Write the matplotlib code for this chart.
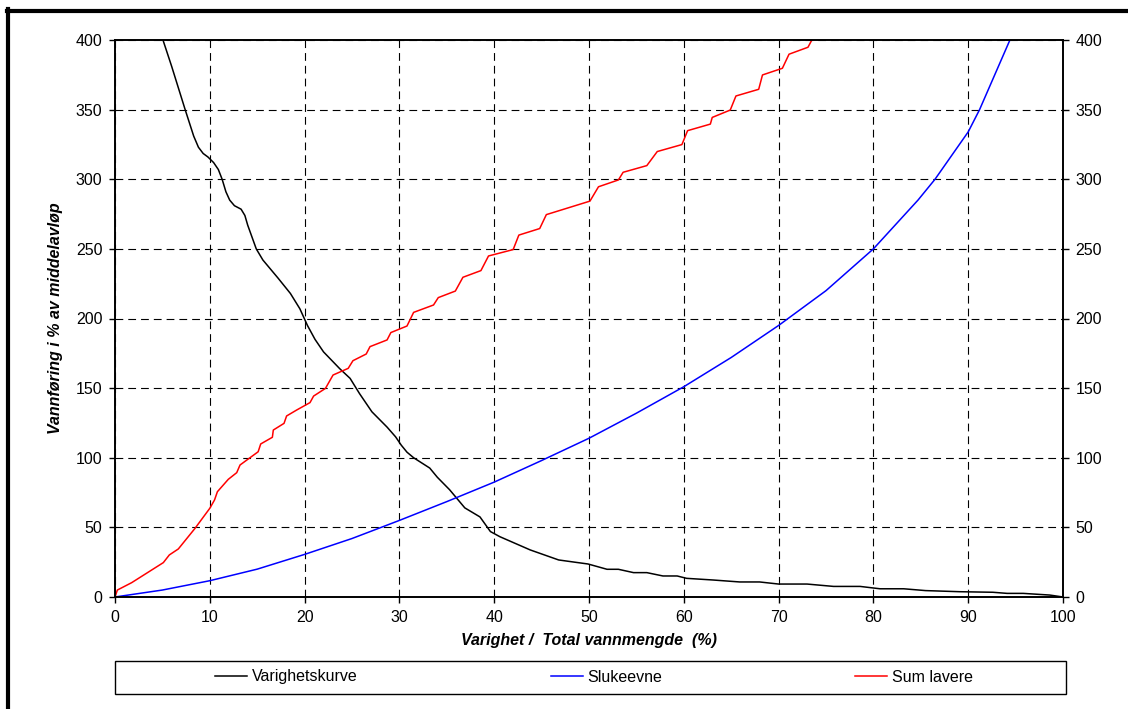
import numpy as np
import matplotlib
matplotlib.use('Agg')
import matplotlib.pyplot as plt
from matplotlib.lines import Line2D
from matplotlib.patches import Rectangle

plt.rcParams['font.family'] = ['Liberation Sans', 'DejaVu Sans']

# Varighetskurve (black)
var_x = [5.06, 5.98, 7.4, 8.3, 8.8, 9.3, 9.8, 10.4, 10.9, 11.3, 11.7, 12.1, 12.6, 13.3, 13.7,
         14.0, 14.9, 15.6, 17.2, 18.5, 19.5, 20.3, 21.1, 22.0, 23.7, 24.8, 25.8, 27.1, 28.7,
         29.6, 30.2, 30.8, 31.5, 33.2, 34.0, 35.3, 36.9, 38.5, 39.6, 40.6, 43.8, 46.8, 48.5,
         49.9, 51.9, 53.1, 54.7, 56.1, 57.8, 59.3, 60.3, 63.1, 65.9, 68.0, 70.0, 73.0, 75.8,
         78.6, 80.7, 83.2, 85.5, 89.1, 92.6, 94.1, 95.8, 98.6, 100.0]
var_y = [400, 381, 350, 331, 323, 318.5, 316, 312, 307, 300, 291, 285, 281, 278.5, 274,
         267, 250, 242, 229, 218, 207, 195, 185, 176, 164, 157, 146, 133, 122,
         115, 109, 104, 100, 92.6, 86, 77, 64, 57.5, 47, 43.3, 33.8, 26.6, 25,
         23.7, 19.9, 19.9, 17.5, 17.5, 15.1, 15.1, 13.4, 12.2, 10.8, 10.8, 9.3, 9.3, 7.6,
         7.6, 5.9, 5.9, 4.6, 3.8, 3.4, 2.6, 2.6, 1.4, 0]

# Slukeevne (blue)
sluk_x = [0, 5, 10, 15, 20, 25, 30, 35, 40, 45, 50, 55, 60, 65, 70, 75, 80, 84.7, 86.5,
          90, 91.2, 94.4]
sluk_y = [0, 5, 11.7, 20, 30.6, 42, 55, 68.5, 82.5, 98, 114, 132, 151, 172, 195, 220, 250,
          285, 300, 334, 350, 400]

# Sum lavere (red)
sum_x = [0, 0.25, 1.76, 5.1, 5.73, 6.68, 8.44, 10.0, 10.5, 10.8, 11.95, 12.84, 13.19, 15.1,
         15.37, 16.6, 16.7, 17.83, 18.1, 19.17, 20.57, 20.95, 22.2, 23.0, 24.6, 25.1, 26.5,
         26.9, 28.7, 29.1, 30.8, 31.5, 33.6, 34.1, 35.9, 36.7, 38.6, 39.4, 42.0, 42.6, 44.8,
         45.5, 50.1, 51.0, 53.1, 53.6, 56.1, 57.2, 59.8, 60.4, 62.8, 63.0, 64.9, 65.5, 67.9,
         68.3, 70.4, 71.1, 73.1, 73.6]
sum_y = [0, 5, 10.3, 24.7, 30.2, 34.5, 49.3, 63.7, 69.7, 75.6, 84.5, 89.3, 94.8, 104.3,
         109.9, 114.7, 119.9, 124.7, 130, 134.3, 139.6, 144.3, 149.8, 159.4, 164.2, 169.7, 174.5,
         179.8, 184.6, 189.9, 194.6, 204.4, 209.7, 215, 219.7, 229.6, 234.4, 244.9, 249.5, 259.9, 264.6,
         274.6, 284.3, 294.6, 299.5, 305, 309.8, 319.9, 324.9, 334.9, 339.6, 344.4, 349.7, 359.8, 364.6,
         374.9, 379.7, 389.8, 394.8, 401.2]

fig = plt.figure(figsize=(11.28, 7.09), dpi=100)
ax = fig.add_axes([115/1128, 1-597/709, 948/1128, 557/709])

ax.plot(var_x, var_y, color='black', lw=1.1, label='Varighetskurve')
ax.plot(sluk_x, sluk_y, color='#0000ff', lw=1.1, label='Slukeevne')
ax.plot(sum_x, sum_y, color='#ff0000', lw=1.1, label='Sum lavere')

ax.set_xlim(0, 100)
ax.set_ylim(0, 400)
ax.set_xticks(np.arange(0, 101, 10))
ax.set_yticks(np.arange(0, 401, 50))
ax.grid(True, color='black', lw=0.8, linestyle=(0, (7, 4.5)))
ax.set_axisbelow(True)
for s in ax.spines.values():
    s.set_linewidth(1.4)
ax.tick_params(axis='both', direction='out', length=4, width=1, labelsize=11.5, pad=5)
ax.tick_params(axis='y', right=True, labelright=True)

ax.set_xlabel('Varighet /  Total vannmengde  (%)', fontsize=11.5, fontweight='bold',
              fontstyle='italic', labelpad=6)
ax.set_ylabel('Vannføring i % av middelavløp', fontsize=11.5, fontweight='bold',
              fontstyle='italic', labelpad=9)

# legend box below the plot
fig.add_artist(Rectangle((115/1128, 1-694/709), 951/1128, 33/709, transform=fig.transFigure,
                         fill=False, edgecolor='black', lw=1))
fig.legend(loc='center', bbox_to_anchor=(594/1128, 1-677/709), ncol=3, frameon=False,
           fontsize=11.5, handlelength=2.0, handletextpad=0.3, columnspacing=12.1)

# outer frame lines (top and left)
fig.add_artist(Line2D([7/1128, 1], [1-10.5/709, 1-10.5/709], transform=fig.transFigure,
                      color='black', lw=3))
fig.add_artist(Line2D([8/1128, 8/1128], [0, 1-9/709], transform=fig.transFigure,
                      color='black', lw=3))

fig.savefig('out.png', dpi=100)
